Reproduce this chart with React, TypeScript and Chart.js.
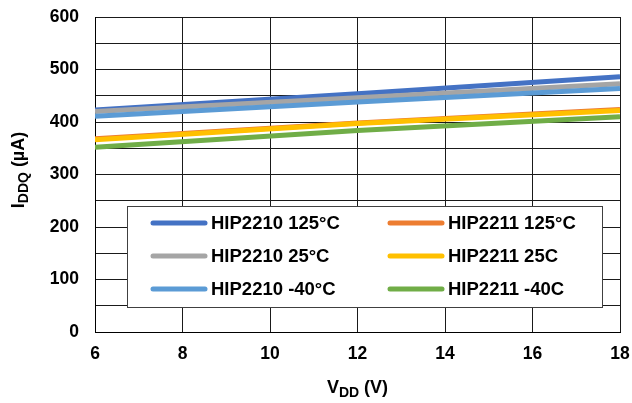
import React, { useEffect, useRef } from "react";
import { Chart, registerables } from "chart.js";

Chart.register(...registerables);

const vdd = [6, 12, 18];
const hip2210_125 = [423, 454, 486];
const hip2211_125 = [368, 398, 424];
const hip2210_25 = [420, 446, 473];
const hip2211_25 = [366, 397, 422];
const hip2210_m40 = [411, 438, 464];
const hip2211_m40 = [352, 384, 410];

const seriesLabels = [
  "HIP2210 125°C",
  "HIP2211 125°C",
  "HIP2210 25°C",
  "HIP2211 25C",
  "HIP2210 -40°C",
  "HIP2211 -40C",
];
const seriesValues = [hip2210_125, hip2211_125, hip2210_25, hip2211_25, hip2210_m40, hip2211_m40];
const seriesColors = ["#4472C4", "#ED7D31", "#A5A5A5", "#FFC000", "#5B9BD5", "#70AD47"];

const FONT = "'Liberation Sans', Arial, sans-serif";

const titlesPlugin = {
  id: "titlesPlugin",
  afterDraw(chart: any) {
    const ctx = chart.ctx;
    ctx.save();
    ctx.fillStyle = "#000";
    ctx.textBaseline = "alphabetic";
    ctx.textAlign = "left";
    const big = `bold 18px ${FONT}`;
    const small = `bold 14px ${FONT}`;
    // X title
    {
      const parts: [string, string, number][] = [
        ["V", big, 0],
        ["DD", small, 4],
        [" (V)", big, 0],
      ];
      let total = 0;
      for (const [t, f] of parts) { ctx.font = f; total += ctx.measureText(t).width; }
      const cx = (chart.chartArea.left + chart.chartArea.right) / 2;
      let x = cx - total / 2;
      const by = 393;
      for (const [t, f, dy] of parts) {
        ctx.font = f; ctx.fillText(t, x, by + dy); x += ctx.measureText(t).width;
      }
    }
    // Y title
    {
      const parts: [string, string, number][] = [
        ["I", big, 0],
        ["DDQ", small, 4],
        [" (µA)", big, 0],
      ];
      let total = 0;
      for (const [t, f] of parts) { ctx.font = f; total += ctx.measureText(t).width; }
      ctx.translate(24, 170);
      ctx.rotate(-Math.PI / 2);
      let x = -total / 2;
      for (const [t, f, dy] of parts) {
        ctx.font = f; ctx.fillText(t, x, dy); x += ctx.measureText(t).width;
      }
    }
    ctx.restore();
  },
};

const legendPlugin = {
  id: "legendBox",
  afterDatasetsDraw(chart: any) {
    const ctx = chart.ctx;
    ctx.save();
    const bx = 127.5, by = 206.5, bw = 475, bh = 101;
    ctx.fillStyle = "#fff";
    ctx.fillRect(bx, by, bw, bh);
    ctx.strokeStyle = "#404040";
    ctx.lineWidth = 1;
    ctx.strokeRect(bx, by, bw, bh);
    const rows = [223, 256, 289];
    const cols = [
      { l1: 153, l2: 205, tx: 211 },
      { l1: 390, l2: 442, tx: 448 },
    ];
    ctx.font = `bold 18.5px ${FONT}`;
    ctx.textBaseline = "middle";
    ctx.textAlign = "left";
    seriesLabels.forEach((lab, i) => {
      const r = rows[Math.floor(i / 2)];
      const c = cols[i % 2];
      ctx.strokeStyle = seriesColors[i];
      ctx.lineWidth = 5;
      ctx.lineCap = "round";
      ctx.beginPath();
      ctx.moveTo(c.l1, r);
      ctx.lineTo(c.l2, r);
      ctx.stroke();
      ctx.fillStyle = "#000";
      ctx.fillText(lab, c.tx, r + 1);
    });
    ctx.restore();
  },
};

export default function App() {
  const ref = useRef<HTMLCanvasElement>(null);
  useEffect(() => {
    const canvas = ref.current!;
    const chart = new Chart(canvas, {
      type: "line",
      data: {
        datasets: seriesLabels.map((lab, i) => ({
          label: lab,
          data: vdd.map((x, j) => ({ x, y: seriesValues[i][j] })),
          borderColor: seriesColors[i],
          backgroundColor: seriesColors[i],
          borderWidth: 5,
          pointRadius: 0,
          fill: false,
          tension: 0,
          order: seriesLabels.length - i,
        })),
      },
      options: {
        responsive: false,
        animation: false,
        devicePixelRatio: 1,
        layout: { padding: { left: 0, right: 12, top: 17, bottom: 0 } },
        plugins: { legend: { display: false }, tooltip: { enabled: false }, title: { display: false } },
        scales: {
          x: {
            type: "linear",
            min: 6,
            max: 18,
            ticks: {
              stepSize: 2,
              padding: 12,
              color: "#000",
              font: { family: FONT, size: 17.5, weight: "bold" },
            },
            grid: { color: "#1a1a1a", lineWidth: 1, drawTicks: false },
            border: { color: "#000", width: 1 },
            afterFit: (s: any) => { s.height = 71; s.paddingLeft = 0; s.paddingRight = 0; },
          },
          y: {
            min: 0,
            max: 600,
            ticks: {
              stepSize: 50,
              padding: 16,
              color: "#000",
              font: { family: FONT, size: 17.5, weight: "bold" },
              callback: (v: any) => (Number(v) % 100 === 0 ? String(v) : ""),
            },
            grid: { color: "#1a1a1a", lineWidth: 1, drawTicks: false },
            border: { color: "#000", width: 1 },
            afterFit: (s: any) => { s.width = 95; s.paddingTop = 0; s.paddingBottom = 0; },
          },
        },
      },
      plugins: [legendPlugin, titlesPlugin],
    } as any);
    return () => chart.destroy();
  }, []);
  return (
    <div style={{ position: "fixed", left: 0, top: 0, width: 632, height: 403, background: "#fff" }}>
      <canvas ref={ref} width={632} height={403} />
    </div>
  );
}
